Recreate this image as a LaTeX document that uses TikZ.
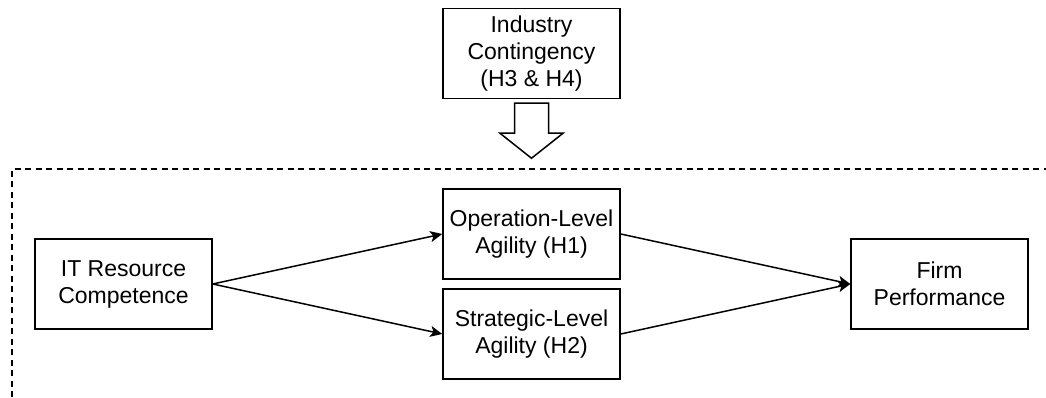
\documentclass[tikz,border=0pt]{standalone}
\usepackage{fontspec}
\setmainfont{Liberation Sans}
\usepackage{tikz}
\usetikzlibrary{arrows.meta}

\begin{document}
\begin{tikzpicture}[x=1pt, y=1pt, node distance=408pt, >={Stealth[length=12pt, width=11pt, inset=3pt]}, every node/.style={font=\fontsize{23}{27}\selectfont}, varbox/.style={draw, rectangle, line width=1.5pt, minimum width=177pt, minimum height=90pt, inner sep=0pt, align=center}]
    \useasboundingbox (0,0) rectangle (1046,398);

    % Research model
    \node[varbox] (itrc) at (123.5,114) {IT Resource\\Competence};
    \node[varbox, right of=itrc, yshift=50pt] (opagil) {Operation-Level\\Agility (H1)};
    \node[varbox, right of=itrc, yshift=-50pt] (stagil) {Strategic-Level\\Agility (H2)};
    \node[varbox, right of=opagil, yshift=-50pt] (firmperf) {Firm\\Performance};

    % Contingency
    \node[varbox, node distance=180.5pt, above of=opagil] (indcont) {Industry\\Contingency\\(H3 \& H4)};
    \draw[line width=1.5pt] ([yshift=-4pt]indcont.south) ++(-17,0) -- ++(0,-30) -- ++(-14.5,0) -- ++(31.5,-25) -- ++(31.5,25) -- ++(-14.5,0) -- ++(0,30) -- cycle;
    \draw[line width=1.5pt, dash pattern=on 6pt off 4.5pt] (12,-10) -- (12,229) -- (1060,229);

    % Paths
    \draw[->, line width=1.5pt] (itrc.east) -- (opagil.west);
    \draw[->, line width=1.5pt] (itrc.east) -- (stagil.west);
    \draw[->, line width=1.5pt] (opagil.east) -- (firmperf.west);
    \draw[->, line width=1.5pt] (stagil.east) -- (firmperf.west);
\end{tikzpicture}
\end{document}
